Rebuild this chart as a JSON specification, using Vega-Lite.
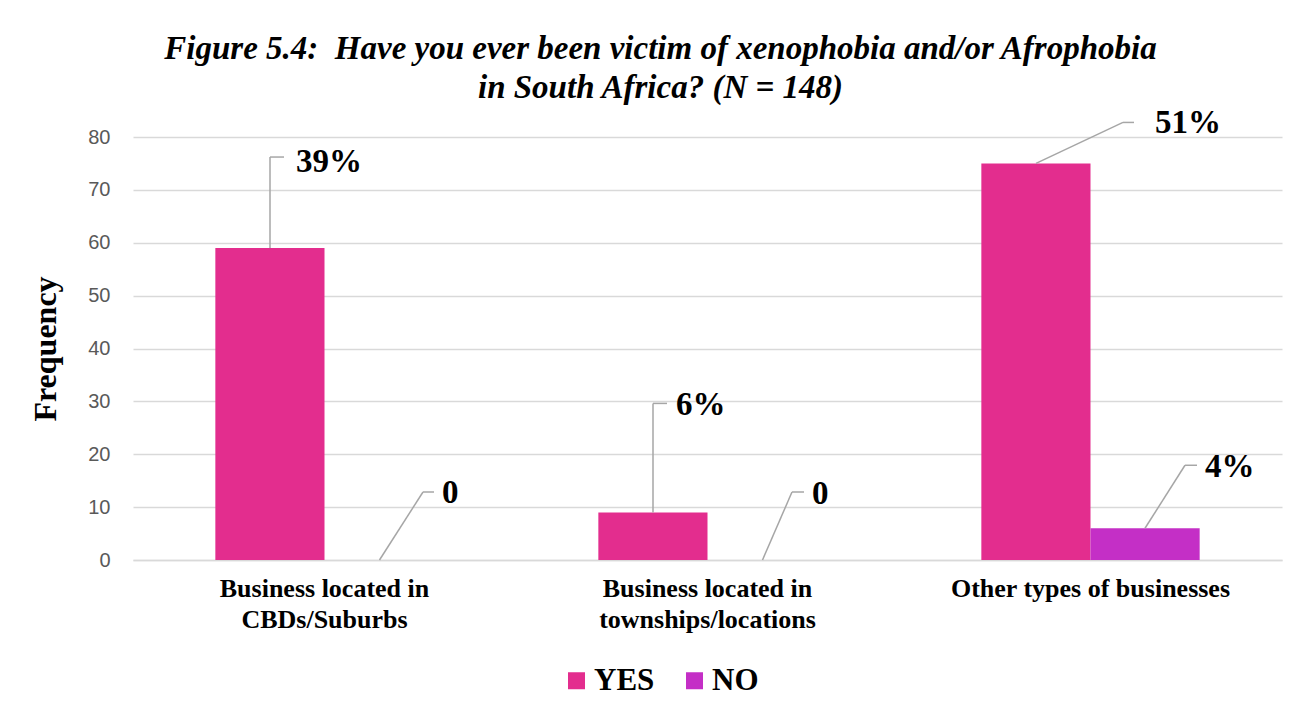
{
  "$schema": "https://vega.github.io/schema/vega-lite/v6.json",
  "autosize": {"type": "none"},
  "width": 1149,
  "height": 423,
  "padding": {"left": 133, "top": 137, "right": 32, "bottom": 157},
  "background": "white",
  "title": {
    "text": ["Figure 5.4:\u00a0 Have you ever been victim of xenophobia and/or Afrophobia", "in South Africa? (N = 148)"],
    "font": "Liberation Serif",
    "fontStyle": "italic",
    "fontWeight": "bold",
    "fontSize": 33,
    "lineHeight": 39,
    "color": "black",
    "anchor": "middle",
    "dx": -47,
    "offset": 2
  },
  "data": {
    "values": [
      {"cat": "Business located in CBDs/Suburbs", "series": "YES", "freq": 59, "pct": "39%"},
      {"cat": "Business located in CBDs/Suburbs", "series": "NO", "freq": 0, "pct": "0"},
      {"cat": "Business located in townships/locations", "series": "YES", "freq": 9, "pct": "6%"},
      {"cat": "Business located in townships/locations", "series": "NO", "freq": 0, "pct": "0"},
      {"cat": "Other types of businesses", "series": "YES", "freq": 75, "pct": "51%"},
      {"cat": "Other types of businesses", "series": "NO", "freq": 6, "pct": "4%"}
    ]
  },
  "encoding": {
    "x": {
      "field": "cat",
      "type": "nominal",
      "sort": null,
      "scale": {"paddingInner": 0.43, "paddingOuter": 0.215},
      "axis": {
        "title": null,
        "labelAngle": 0,
        "labelLimit": 0,
        "labelExpr": "indexof(datum.value, 'Business located in ') == 0 ? ['Business located in', substring(datum.value, 20)] : datum.value",
        "labelFont": "Liberation Serif",
        "labelFontWeight": "bold",
        "labelFontSize": 26,
        "labelLineHeight": 31,
        "labelColor": "black",
        "labelPadding": 15,
        "labelBaseline": "top",
        "ticks": false,
        "domainColor": "#d9d9d9",
        "domainWidth": 1.5,
        "grid": false
      }
    },
    "y": {
      "field": "freq",
      "type": "quantitative",
      "scale": {"domain": [0, 80], "nice": false},
      "axis": {
        "title": "Frequency",
        "titleFont": "Liberation Serif",
        "titleFontWeight": "bold",
        "titleFontSize": 32,
        "titleColor": "black",
        "titlePadding": 25,
        "values": [0, 10, 20, 30, 40, 50, 60, 70, 80],
        "labelFont": "Liberation Sans",
        "labelFontSize": 20,
        "labelColor": "#595959",
        "labelPadding": 23,
        "ticks": false,
        "domain": false,
        "grid": true,
        "gridColor": "#d9d9d9",
        "gridWidth": 1.5
      }
    }
  },
  "layer": [
    {
      "mark": {"type": "bar"},
      "encoding": {
        "xOffset": {"field": "series", "type": "nominal", "sort": ["YES", "NO"], "scale": {"paddingInner": 0, "paddingOuter": 0}},
        "color": {
          "field": "series",
          "type": "nominal",
          "sort": ["YES", "NO"],
          "scale": {"domain": ["YES", "NO"], "range": ["#E32D8E", "#C42FC6"]},
          "legend": {
            "title": null,
            "orient": "none",
            "direction": "horizontal",
            "legendX": 428,
            "legendY": 528,
            "symbolType": "square",
            "symbolSize": 289,
            "symbolStrokeWidth": 0,
            "labelFont": "Liberation Serif",
            "labelFontWeight": "bold",
            "labelFontSize": 31,
            "labelColor": "black",
            "labelOffset": 2,
            "columnPadding": 24
          }
        }
      }
    },
    {
      "transform": [{"filter": "datum.cat == 'Business located in CBDs/Suburbs' && datum.series == 'YES'"}],
      "mark": {"type": "rule", "color": "#a6a6a6", "strokeWidth": 1.5, "xOffset": -54.5, "y2Offset": -91},
      "encoding": {"y2": {"field": "freq"}}
    },
    {
      "transform": [{"filter": "datum.cat == 'Business located in CBDs/Suburbs' && datum.series == 'YES'"}],
      "mark": {"type": "rule", "color": "#a6a6a6", "strokeWidth": 1.5, "xOffset": -54.5, "x2Offset": -40.5, "yOffset": -91},
      "encoding": {"x2": {"field": "cat"}}
    },
    {
      "transform": [{"filter": "datum.cat == 'Business located in CBDs/Suburbs' && datum.series == 'YES'"}],
      "mark": {"type": "text", "align": "left", "baseline": "alphabetic", "dx": -28.5, "dy": -76, "font": "Liberation Serif", "fontWeight": "bold", "fontSize": 33, "color": "black"},
      "encoding": {"text": {"field": "pct"}}
    },
    {
      "transform": [{"filter": "datum.cat == 'Business located in townships/locations' && datum.series == 'YES'"}],
      "mark": {"type": "rule", "color": "#a6a6a6", "strokeWidth": 1.5, "xOffset": -54.5, "y2Offset": -109},
      "encoding": {"y2": {"field": "freq"}}
    },
    {
      "transform": [{"filter": "datum.cat == 'Business located in townships/locations' && datum.series == 'YES'"}],
      "mark": {"type": "rule", "color": "#a6a6a6", "strokeWidth": 1.5, "xOffset": -54.5, "x2Offset": -40.5, "yOffset": -109},
      "encoding": {"x2": {"field": "cat"}}
    },
    {
      "transform": [{"filter": "datum.cat == 'Business located in townships/locations' && datum.series == 'YES'"}],
      "mark": {"type": "text", "align": "left", "baseline": "alphabetic", "dx": -31.5, "dy": -97, "font": "Liberation Serif", "fontWeight": "bold", "fontSize": 33, "color": "black"},
      "encoding": {"text": {"field": "pct"}}
    },
    {
      "transform": [{"filter": "datum.cat == 'Other types of businesses' && datum.series == 'YES'"}],
      "mark": {"type": "rule", "color": "#a6a6a6", "strokeWidth": 1.5, "xOffset": -54.5, "x2Offset": 32.5, "y2Offset": -41},
      "encoding": {"x2": {"field": "cat"}, "y2": {"field": "freq"}}
    },
    {
      "transform": [{"filter": "datum.cat == 'Other types of businesses' && datum.series == 'YES'"}],
      "mark": {"type": "rule", "color": "#a6a6a6", "strokeWidth": 1.5, "xOffset": 32.5, "x2Offset": 43.5, "yOffset": -41},
      "encoding": {"x2": {"field": "cat"}}
    },
    {
      "transform": [{"filter": "datum.cat == 'Other types of businesses' && datum.series == 'YES'"}],
      "mark": {"type": "text", "align": "left", "baseline": "alphabetic", "dx": 64.5, "dy": -30, "font": "Liberation Serif", "fontWeight": "bold", "fontSize": 33, "color": "black"},
      "encoding": {"text": {"field": "pct"}}
    },
    {
      "transform": [{"filter": "datum.cat == 'Business located in CBDs/Suburbs' && datum.series == 'NO'"}],
      "mark": {"type": "rule", "color": "#a6a6a6", "strokeWidth": 1.5, "xOffset": 55, "x2Offset": 98.5, "y2Offset": -68},
      "encoding": {"x2": {"field": "cat"}, "y2": {"field": "freq"}}
    },
    {
      "transform": [{"filter": "datum.cat == 'Business located in CBDs/Suburbs' && datum.series == 'NO'"}],
      "mark": {"type": "rule", "color": "#a6a6a6", "strokeWidth": 1.5, "xOffset": 98.5, "x2Offset": 109.5, "yOffset": -68},
      "encoding": {"x2": {"field": "cat"}}
    },
    {
      "transform": [{"filter": "datum.cat == 'Business located in CBDs/Suburbs' && datum.series == 'NO'"}],
      "mark": {"type": "text", "align": "left", "baseline": "alphabetic", "dx": 117.5, "dy": -57, "font": "Liberation Serif", "fontWeight": "bold", "fontSize": 33, "color": "black"},
      "encoding": {"text": {"field": "pct"}}
    },
    {
      "transform": [{"filter": "datum.cat == 'Business located in townships/locations' && datum.series == 'NO'"}],
      "mark": {"type": "rule", "color": "#a6a6a6", "strokeWidth": 1.5, "xOffset": 55, "x2Offset": 84.5, "y2Offset": -68},
      "encoding": {"x2": {"field": "cat"}, "y2": {"field": "freq"}}
    },
    {
      "transform": [{"filter": "datum.cat == 'Business located in townships/locations' && datum.series == 'NO'"}],
      "mark": {"type": "rule", "color": "#a6a6a6", "strokeWidth": 1.5, "xOffset": 84.5, "x2Offset": 96.5, "yOffset": -68},
      "encoding": {"x2": {"field": "cat"}}
    },
    {
      "transform": [{"filter": "datum.cat == 'Business located in townships/locations' && datum.series == 'NO'"}],
      "mark": {"type": "text", "align": "left", "baseline": "alphabetic", "dx": 104.5, "dy": -56, "font": "Liberation Serif", "fontWeight": "bold", "fontSize": 33, "color": "black"},
      "encoding": {"text": {"field": "pct"}}
    },
    {
      "transform": [{"filter": "datum.cat == 'Other types of businesses' && datum.series == 'NO'"}],
      "mark": {"type": "rule", "color": "#a6a6a6", "strokeWidth": 1.5, "xOffset": 54.5, "x2Offset": 94.5, "y2Offset": -63},
      "encoding": {"x2": {"field": "cat"}, "y2": {"field": "freq"}}
    },
    {
      "transform": [{"filter": "datum.cat == 'Other types of businesses' && datum.series == 'NO'"}],
      "mark": {"type": "rule", "color": "#a6a6a6", "strokeWidth": 1.5, "xOffset": 94.5, "x2Offset": 106.5, "yOffset": -63},
      "encoding": {"x2": {"field": "cat"}}
    },
    {
      "transform": [{"filter": "datum.cat == 'Other types of businesses' && datum.series == 'NO'"}],
      "mark": {"type": "text", "align": "left", "baseline": "alphabetic", "dx": 114.5, "dy": -51, "font": "Liberation Serif", "fontWeight": "bold", "fontSize": 33, "color": "black"},
      "encoding": {"text": {"field": "pct"}}
    }
  ],
  "config": {
    "view": {"stroke": null}
  }
}
